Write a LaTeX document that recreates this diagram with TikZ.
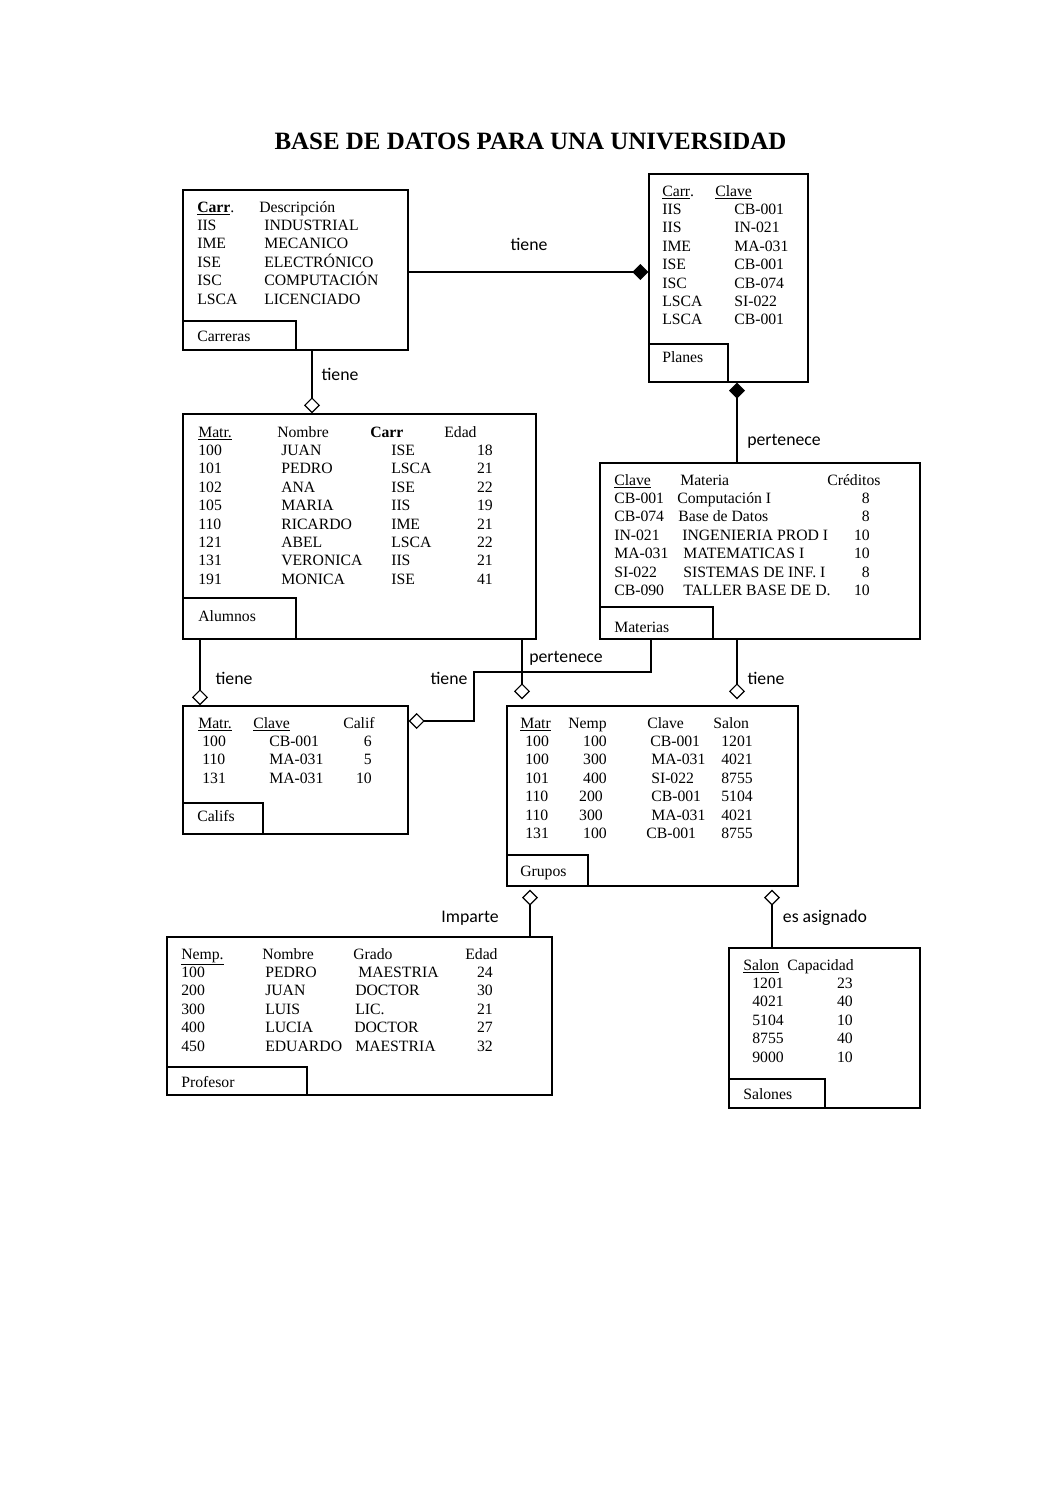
\documentclass[tikz,border=0pt]{standalone}
\usepackage{fontspec}
\setmainfont{Liberation Serif}
\newfontfamily\relfont{Carlito}
\usepackage{tikz}
\usetikzlibrary{arrows.meta,fit}

\begin{document}
\begin{tikzpicture}[x=0.75pt, y=-0.75pt,
    tabla/.style={draw, line width=1.1pt, inner sep=0pt},
    celda/.style={anchor=base west, inner sep=0pt, font=\fontsize{11.8}{13}\selectfont},
    num/.style={celda, anchor=base east},
    rel/.style={anchor=base, inner sep=0pt, font=\relfont\fontsize{13.3}{15}\selectfont},
    conn/.style={line width=0.9pt},
    rombo fin/.style={-{Diamond[open,length=12pt,width=12pt]}},
    rombo ini/.style={{Diamond[open,length=12pt,width=12pt]}-},
    lleno fin/.style={-{Diamond[length=12pt,width=12pt]}},
    lleno ini/.style={{Diamond[length=12pt,width=12pt]}-}]

% page size
\fill[white] (0,0) rectangle (1061,1500);
\useasboundingbox (0,0) rectangle (1061,1500);

% Title
\node[font=\fontsize{18.7}{22}\selectfont\bfseries, anchor=base] (titulo) at (530.5,149) {BASE DE DATOS PARA UNA UNIVERSIDAD};

% CARRERAS
\node[tabla, fit={(183,190) (408,350)}] (carreras) {};
\node[tabla, fit={(183,321) (296,350)}] (carreras-lbl) {};
\node[celda] (carreras-nom) at (197,341) {Carreras};
\node[celda] (car-h1) at (197,212) {\underline{\textbf{Carr}}.};
\node[celda] (car-h2) at (259,212) {Descripción};
\foreach \c/\d [count=\i] in {IIS/INDUSTRIAL, IME/MECANICO, ISE/ELECTRÓNICO, ISC/COMPUTACIÓN, LSCA/LICENCIADO} {
    \node[celda] (car-c\i) at (197,{212+18.4*\i}) {\c};
    \node[celda] (car-d\i) at (264,{212+18.4*\i}) {\d};
}

% PLANES
\node[tabla, fit={(649,174) (808,382)}] (planes) {};
\node[tabla, fit={(649,344) (728,382)}] (planes-lbl) {};
\node[celda] (planes-nom) at (662,362) {Planes};
\node[celda] (pla-h1) at (662,196) {\underline{Carr}.};
\node[celda] (pla-h2) at (715,196) {\underline{Clave}};
\foreach \c/\k [count=\i] in {IIS/CB-001, IIS/IN-021, IME/MA-031, ISE/CB-001, ISC/CB-074, LSCA/SI-022, LSCA/CB-001} {
    \node[celda] (pla-c\i) at (662,{196+18.4*\i}) {\c};
    \node[celda] (pla-k\i) at (734,{196+18.4*\i}) {\k};
}

% ALUMNOS
\node[tabla, fit={(183,414) (536,639)}] (alumnos) {};
\node[tabla, fit={(183,598) (296,639)}] (alumnos-lbl) {};
\node[celda] (alumnos-nom) at (198,621) {Alumnos};
\node[celda] (alu-h1) at (198,437) {\underline{Matr.}};
\node[celda] (alu-h2) at (277,437) {Nombre};
\node[celda] (alu-h3) at (370,437) {\textbf{Carr}};
\node[celda] (alu-h4) at (444,437) {Edad};
\foreach \m/\n/\c/\e [count=\i] in {100/JUAN/ISE/18, 101/PEDRO/LSCA/21, 102/ANA/ISE/22, 105/MARIA/IIS/19,
    110/RICARDO/IME/21, 121/ABEL/LSCA/22, 131/VERONICA/IIS/21, 191/MONICA/ISE/41} {
    \node[celda] (alu-m\i) at (198,{437+18.4*\i}) {\m};
    \node[celda] (alu-n\i) at (281,{437+18.4*\i}) {\n};
    \node[celda] (alu-c\i) at (391,{437+18.4*\i}) {\c};
    \node[num] (alu-e\i) at (493,{437+18.4*\i}) {\e};
}

% MATERIAS
\node[tabla, fit={(600,463) (920,639)}] (materias) {};
\node[tabla, fit={(600,607) (713,639)}] (materias-lbl) {};
\node[celda] (materias-nom) at (614,632) {Materias};
\node[celda] (mat-h1) at (614,485) {\underline{Clave}};
\node[celda] (mat-h2) at (680,485) {Materia};
\node[celda] (mat-h3) at (827,485) {Créditos};
\foreach \k/\m/\xm/\cr [count=\i] in {CB-001/Computación I/677/8, CB-074/Base de Datos/678/8,
    IN-021/INGENIERIA PROD I/682/10, MA-031/MATEMATICAS I/683/10,
    SI-022/SISTEMAS DE INF. I/683/8, CB-090/TALLER BASE DE D./683/10} {
    \node[celda] (mat-k\i) at (614,{485+18.4*\i}) {\k};
    \node[celda] (mat-m\i) at (\xm,{485+18.4*\i}) {\m};
    \node[num] (mat-c\i) at (870,{485+18.4*\i}) {\cr};
}

% CALIFS
\node[tabla, fit={(183,706) (408,834)}] (califs) {};
\node[tabla, fit={(183,803) (263,834)}] (califs-lbl) {};
\node[celda] (califs-nom) at (197,821) {Califs};
\node[celda] (cal-h1) at (198,728) {\underline{Matr.}};
\node[celda] (cal-h2) at (253,728) {\underline{Clave}};
\node[celda] (cal-h3) at (343,728) {Calif};
\foreach \m/\k/\c [count=\i] in {100/CB-001/6, 110/MA-031/5, 131/MA-031/10} {
    \node[celda] (cal-m\i) at (202,{728+18.4*\i}) {\m};
    \node[celda] (cal-k\i) at (269,{728+18.4*\i}) {\k};
    \node[num] (cal-c\i) at (372,{728+18.4*\i}) {\c};
}

% GRUPOS
\node[tabla, fit={(507,706) (798,886)}] (grupos) {};
\node[tabla, fit={(507,855) (588,886)}] (grupos-lbl) {};
\node[celda] (grupos-nom) at (520,876) {Grupos};
\node[celda] (gru-h1) at (520,728) {\underline{Matr}};
\node[celda] (gru-h2) at (568,728) {Nemp};
\node[celda] (gru-h3) at (647,728) {Clave};
\node[celda] (gru-h4) at (713,728) {Salon};
\foreach \m/\n/\xn/\k/\xk/\s [count=\i] in {100/100/607/CB-001/650/1201, 100/300/607/MA-031/651/4021,
    101/400/607/SI-022/651/8755, 110/200/603/CB-001/651/5104, 110/300/603/MA-031/651/4021,
    131/100/607/CB-001/646/8755} {
    \node[celda] (gru-m\i) at (525,{728+18.4*\i}) {\m};
    \node[num] (gru-n\i) at (\xn,{728+18.4*\i}) {\n};
    \node[celda] (gru-k\i) at (\xk,{728+18.4*\i}) {\k};
    \node[celda] (gru-s\i) at (721,{728+18.4*\i}) {\s};
}

% PROFESOR
\node[tabla, fit={(167,937) (552,1095)}] (profesor) {};
\node[tabla, fit={(167,1067) (307,1095)}] (profesor-lbl) {};
\node[celda] (profesor-nom) at (181,1087) {Profesor};
\node[celda] (pro-h1) at (181,959) {\underline{Nemp.}};
\node[celda] (pro-h2) at (262,959) {Nombre};
\node[celda] (pro-h3) at (353,959) {Grado};
\node[celda] (pro-h4) at (465,959) {Edad};
\foreach \n/\m/\g/\xg/\e [count=\i] in {100/PEDRO/MAESTRIA/358/24, 200/JUAN/DOCTOR/355/30,
    300/LUIS/LIC./355/21, 400/LUCIA/DOCTOR/354/27, 450/EDUARDO/MAESTRIA/355/32} {
    \node[celda] (pro-n\i) at (181,{959+18.4*\i}) {\n};
    \node[celda] (pro-m\i) at (265,{959+18.4*\i}) {\m};
    \node[celda] (pro-g\i) at (\xg,{959+18.4*\i}) {\g};
    \node[num] (pro-e\i) at (493,{959+18.4*\i}) {\e};
}

% SALONES
\node[tabla, fit={(729,948) (920,1108)}] (salones) {};
\node[tabla, fit={(729,1079) (825,1108)}] (salones-lbl) {};
\node[celda] (salones-nom) at (743,1099) {Salones};
\node[celda] (sal-h1) at (743,970) {\underline{Salon}};
\node[celda] (sal-h2) at (787,970) {Capacidad};
\foreach \s/\c [count=\i] in {1201/23, 4021/40, 5104/10, 8755/40, 9000/10} {
    \node[celda] (sal-s\i) at (752,{970+18.4*\i}) {\s};
    \node[num] (sal-c\i) at (853,{970+18.4*\i}) {\c};
}

% Relationships
\draw[conn, lleno fin] (carreras.east |- 0,272) -- (planes.west |- 0,272);
\node[rel] (r-tiene1) at (529,250) {tiene};

\draw[conn, rombo fin] (312,0 |- carreras.south) -- (312,0 |- alumnos.north);
\node[rel] (r-tiene2) at (340,380) {tiene};

\draw[conn, lleno ini] (737,0 |- planes.south) -- (737,0 |- materias.north);
\node[rel] (r-pert1) at (784,445) {pertenece};

\draw[conn, rombo fin] (200,0 |- alumnos.south) -- (200,0 |- califs.north);
\node[rel] (r-tiene3) at (234,684) {tiene};

\draw[conn, rombo fin, shorten >=4.5pt] (522,0 |- alumnos.south) -- (522,0 |- grupos.north);
\node[rel] (r-pert2) at (566,662) {pertenece};

\draw[conn, rombo fin] (651,0 |- materias.south) |- (474,672) |- (califs.east |- 0,721);
\node[rel] (r-tiene4) at (449,684) {tiene};

\draw[conn, rombo fin, shorten >=4.5pt] (737,0 |- materias.south) -- (737,0 |- grupos.north);
\node[rel] (r-tiene5) at (766,684) {tiene};

\draw[conn, rombo ini, shorten <=2.2pt] (530,0 |- grupos.south) -- (530,0 |- profesor.north);
\node[rel] (r-imparte) at (470,922) {Imparte};

\draw[conn, rombo ini, shorten <=2.2pt] (772,0 |- grupos.south) -- (772,0 |- salones.north);
\node[rel] (r-asig) at (825,922) {es asignado};

\end{tikzpicture}
\end{document}
